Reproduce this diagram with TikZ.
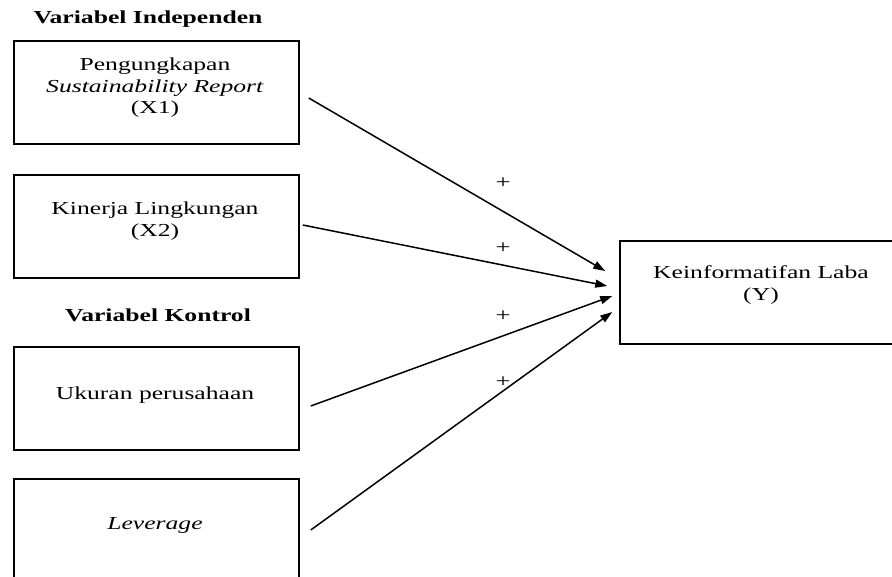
\documentclass[tikz,border=0pt]{standalone}
\usepackage{fontspec}
\setmainfont[FakeStretch=1.4]{Liberation Serif}
\usetikzlibrary{arrows.meta,calc}

\begin{document}
\begin{tikzpicture}[
        x=1pt, y=-1pt,
        box/.style={draw, line width=1.5pt, minimum width=285pt, minimum height=103pt, inner sep=0pt},
        boxtext/.style={align=center, font=\fontsize{18.3}{21.5}\selectfont},
        heading/.style={font=\fontsize{18.3}{21.5}\selectfont\bfseries},
        signtext/.style={font=\fontsize{19}{20}\selectfont},
        link/.style={line width=1.5pt, -{Triangle[length=12pt,width=8pt]}}
    ]
  \useasboundingbox (0,0) rectangle (892,577);

  %%% Left column
  % Independent variables
  \node[heading] (hind) at (148,19) {Variabel Independen};
  \node[box] (x1) at (156.5,92.5) {};
  \node[boxtext] (tx1) at (155,88) {Pengungkapan\\\textit{Sustainability Report}\\(X1)};
  \node[box] (x2) at (156.5,226.5) {};
  \node[boxtext] (tx2) at (155,221) {Kinerja Lingkungan\\(X2)};
  % Control variables
  \node[heading] (hkon) at (158,315) {Variabel Kontrol};
  \node[box] (c1) at (156.5,398.5) {};
  \node[boxtext] (tc1) at (155,395) {Ukuran perusahaan};
  \node[box] (c2) at (156.5,530.5) {};
  \node[boxtext] (tc2) at (155,525) {\textit{Leverage}};

  %%% Dependent variable
  \node[box, minimum width=275pt] (y) at (757.5,292.5) {};
  \node[boxtext] (ty) at (761,285) {Keinformatifan Laba\\(Y)};

  %%% Links
  \draw[link] ($(x1.east)+(9,5.5)$) -- ($(y.west)+(-14,-21.5)$);
  \draw[link] ($(x2.east)+(3,-1.5)$) -- ($(y.west)+(-12,-6.5)$);
  \draw[link] ($(c1.east)+(11,7.5)$) -- ($(y.west)+(-7,3.5)$);
  \draw[link] ($(c2.east)+(11,-0.5)$) -- ($(y.west)+(-7,19.5)$);
  % Signs
  \foreach \py [count=\i] in {183,248,316,382}
    \node[signtext] (p\i) at (503,\py) {+};
\end{tikzpicture}
\end{document}
